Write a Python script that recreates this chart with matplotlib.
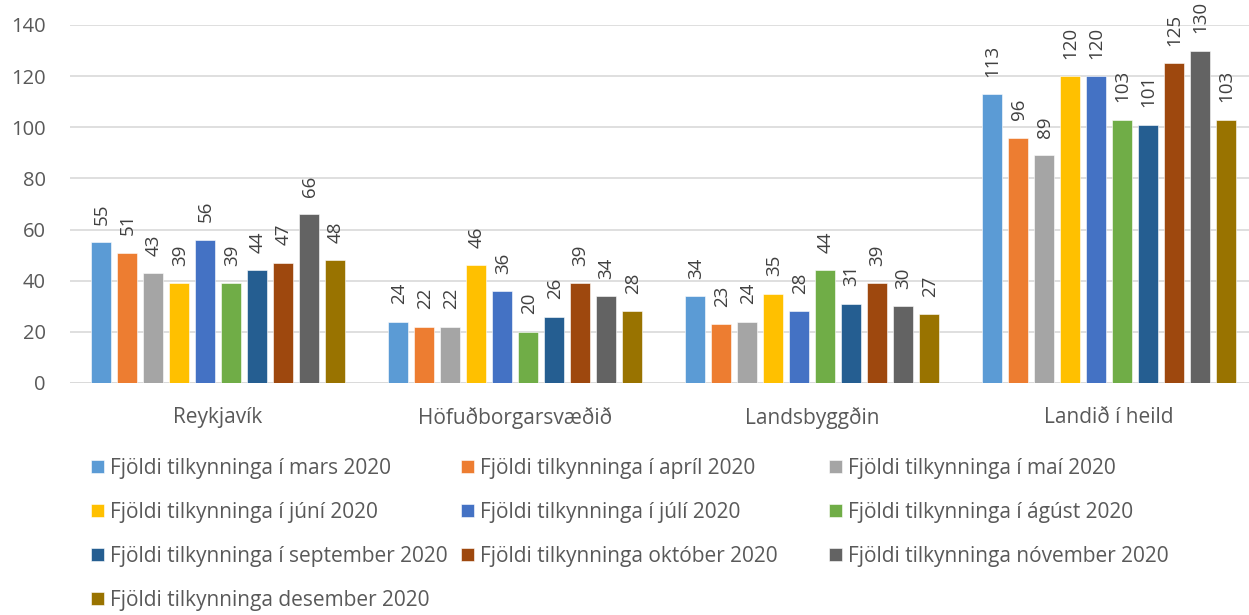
import matplotlib
matplotlib.use("Agg")
import matplotlib.pyplot as plt
import numpy as np

plt.rcParams['font.family'] = ['Open Sans', 'DejaVu Sans']

categories = ["Reykjavík", "Höfuðborgarsvæðið", "Landsbyggðin", "Landið í heild"]
series_names = [
    "Fjöldi tilkynninga í mars 2020",
    "Fjöldi tilkynninga í apríl 2020",
    "Fjöldi tilkynninga í maí 2020",
    "Fjöldi tilkynninga í júní 2020",
    "Fjöldi tilkynninga í júlí 2020",
    "Fjöldi tilkynninga í ágúst 2020",
    "Fjöldi tilkynninga í september 2020",
    "Fjöldi tilkynninga október 2020",
    "Fjöldi tilkynninga nóvember 2020",
    "Fjöldi tilkynninga desember 2020",
]
mars = [55, 24, 34, 113]
april = [51, 22, 23, 96]
mai = [43, 22, 24, 89]
juni = [39, 46, 35, 120]
juli = [56, 36, 28, 120]
agust = [39, 20, 44, 103]
september = [44, 26, 31, 101]
oktober = [47, 39, 39, 125]
november = [66, 34, 30, 130]
desember = [48, 28, 27, 103]
series_values = [mars, april, mai, juni, juli, agust, september, oktober, november, desember]
colors = ["#5B9BD5", "#ED7D31", "#A5A5A5", "#FFC000", "#4472C4",
          "#70AD47", "#255E91", "#9E480E", "#636363", "#997300"]

W, H = 1249, 615
fig = plt.figure(figsize=(W / 100, H / 100), dpi=100)
ax = fig.add_axes([69.5 / W, (H - 383) / H, (W - 69.5) / W, (383 - 25) / H])

x = np.arange(len(categories))
step = 0.0875
bw = 0.067
n = len(series_values)
bars = []
for i, (vals, col) in enumerate(zip(series_values, colors)):
    pos = x + (i - (n - 1) / 2) * step
    b = ax.bar(pos, vals, width=bw, color=col, edgecolor="white", linewidth=0.4,
               label=series_names[i], zorder=3)
    bars.append(b)
    for p, v in zip(pos, vals):
        ax.annotate(str(v), (p, v), xytext=(0.5, 12.5), textcoords="offset points",
                    rotation=90, ha="center", va="bottom", fontsize=13.5,
                    color="#404040", zorder=4, annotation_clip=False)

ax.set_xlim(-0.5, -0.5 + (W - 69.5) / 297)
ax.set_ylim(0, 140)
ax.set_yticks(range(0, 141, 20))
ax.yaxis.grid(True, color="#D9D9D9", linewidth=1.2, zorder=0)
ax.set_axisbelow(True)
for s in ax.spines.values():
    s.set_visible(False)
ax.tick_params(axis="both", length=0, labelsize=14.5, colors="#595959")
ax.tick_params(axis="y", pad=17)
ax.set_xticks(x)
ax.set_xticklabels(categories)
ax.tick_params(axis="x", pad=17)
for t in ax.get_xticklabels():
    t.set_fontsize(15)
ax.axhline(0, color="#D9D9D9", linewidth=1.2, zorder=2)

columns = [[0, 3, 6, 9], [1, 4, 7], [2, 5, 8]]
col_x = [87, 457, 825]
for cx, idxs in zip(col_x, columns):
    leg = fig.legend([bars[i] for i in idxs], [series_names[i] for i in idxs],
                     ncol=1, loc="upper left",
                     bbox_to_anchor=(cx / W, 1 - 454 / H), frameon=False,
                     fontsize=15, handlelength=0.6, handleheight=0.6,
                     handletextpad=0.3, labelspacing=1.1,
                     borderaxespad=0, borderpad=0.2)
    for t in leg.get_texts():
        t.set_color("#595959")

fig.savefig("out.png", dpi=100)
